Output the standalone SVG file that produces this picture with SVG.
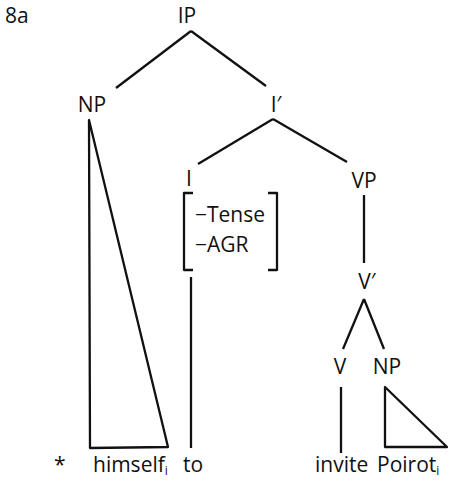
<svg xmlns="http://www.w3.org/2000/svg" width="450" height="488" viewBox="0 0 450 488">
  <style>
    text { font-family: "Open Sans", "Liberation Sans", sans-serif; fill: #111; font-size: 21px; font-weight: 500; }
    .lab { text-anchor: middle; }
    .sub { font-size: 12px; }
    .edge { stroke: #111; stroke-width: 2.3; fill: none; stroke-linecap: butt; stroke-linejoin: round; }
  </style>
  <rect width="450" height="488" fill="#fff"/>

  <text id="example-number" x="5" y="23" font-size="19">8a</text>

  <g id="connectors" class="edge">
    <line class="edge" x1="191" y1="31" x2="116" y2="88"/>
    <line class="edge" x1="191" y1="31" x2="266" y2="86"/>
    <line class="edge" x1="273" y1="119" x2="198" y2="164"/>
    <line class="edge" x1="273" y1="119" x2="347" y2="162"/>
    <line class="edge" x1="364" y1="195" x2="364" y2="263"/>
    <line class="edge" x1="364" y1="299" x2="343" y2="349"/>
    <line class="edge" x1="364" y1="299" x2="384" y2="349"/>
    <line class="edge" x1="191" y1="277" x2="191" y2="448"/>
    <line class="edge" x1="341" y1="387" x2="341" y2="453"/>
    <!-- roof over the subject NP -->
    <polygon class="edge" points="89,120 90,448 168,447"/>
    <!-- roof over the object NP -->
    <polygon class="edge" points="385,387 385,447 447,447"/>
  </g>

  <g id="node-IP"><text class="lab" x="187" y="23">IP</text></g>
  <g id="node-NP-subject"><text class="lab" x="92" y="112">NP</text></g>
  <g id="node-Ibar"><text class="lab" x="276" y="112">I′</text></g>
  <g id="node-I">
    <text class="lab" x="189" y="186">I</text>
    <!-- feature matrix -->
    <path class="edge" d="M193,193 H184 V270 H193"/>
    <path class="edge" d="M268,193 H277 V270 H268"/>
    <text x="195" y="222">−Tense</text>
    <text x="195" y="252">−AGR</text>
  </g>
  <g id="node-VP"><text class="lab" x="364" y="188">VP</text></g>
  <g id="node-Vbar"><text class="lab" x="367" y="289">V′</text></g>
  <g id="node-V"><text class="lab" x="340" y="374">V</text></g>
  <g id="node-NP-object"><text class="lab" x="387" y="374">NP</text></g>

  <g id="leaf-star"><text x="54" y="472" font-size="19">*</text></g>
  <g id="leaf-himself"><text x="93" y="472">himself<tspan class="sub" dy="3">i</tspan></text></g>
  <g id="leaf-to"><text x="183" y="472">to</text></g>
  <g id="leaf-invite"><text x="315" y="472">invite</text></g>
  <g id="leaf-Poirot"><text x="377" y="472">Poirot<tspan class="sub" dy="3">i</tspan></text></g>
</svg>
